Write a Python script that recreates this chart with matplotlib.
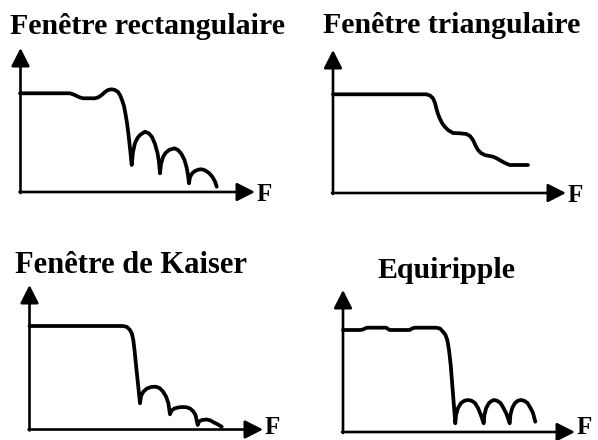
import matplotlib
matplotlib.use("Agg")
import matplotlib.pyplot as plt

# Titles and their placement (pixel units, origin top-left)
titles = ["Fenêtre rectangulaire", "Fenêtre triangulaire",
          "Fenêtre de Kaiser", "Equiripple"]
title_x = [147, 452, 131, 447]
title_y = [34, 33, 273, 278]
title_size = [21.5, 21.5, 22, 21.5]

# Axis corners, arrow tips and "F" label baselines for each panel
origin_x = [20.5, 333, 29.5, 343]
origin_y = [192, 193, 429.5, 432]
ytip = [48, 50, 285, 290]
xtip = [255, 566, 263, 575]
f_base = [201, 202, 434.5, 434.5]

# Curves (F, amplitude) in pixel units
rect_f = [20, 70, 73.5, 76.7, 80, 83.3, 95, 98.5, 101.7, 105, 108, 111.7,
          115, 118, 120, 122, 124, 125.5, 127, 128.3, 130, 131.7,
          133, 135, 137.5, 140, 145, 149, 152, 155, 157.5, 159, 160,
          161, 163, 165.5, 169, 174.3, 178, 181.5, 184.5, 186.5, 188, 189,
          190, 192, 195, 198.5, 201.7, 205, 209, 212.5, 215, 216.7]
rect_a = [93.3, 93.3, 94.5, 96, 97.5, 98.3, 98.3, 97.2, 95, 92, 90, 89.3,
          90, 92, 95, 100, 106, 114, 123, 133, 148, 165,
          152, 143, 138, 135, 131.7, 133.5, 137, 144, 153, 162, 173.3,
          164, 157, 153, 150, 148.3, 150, 154, 160, 167, 175, 183.3,
          177, 173.5, 171, 169.6, 169.3, 170.3, 173, 177, 181.5, 186.7]

tri_f = [333, 426.3, 430, 433, 435, 436.3, 438, 439.7, 442, 444.7, 448,
         453, 460, 466.3, 470, 473, 475.5, 478, 481, 484.7, 493, 497,
         501.3, 505, 509.7, 528]
tri_a = [94.3, 94.3, 95.5, 98.3, 103, 108.3, 114, 118.3, 123, 126.7, 130,
         133, 133.3, 134, 136, 140, 145.5, 150, 153, 155, 156.7, 158.5,
         161, 163, 165, 165]

kaiser_f = [29.5, 123.3, 127, 130, 132, 133.3, 134.5, 136, 138, 140,
            141, 143.5, 147, 151, 155.7, 159.5, 163, 166, 168.3, 170,
            171.5, 174.5, 178, 182, 186.7, 190, 193, 195.5, 197.7,
            199, 202, 206.7, 210.5, 214, 218, 221.7]
kaiser_a = [326, 326, 327, 330, 334, 340, 350, 365, 384, 403.3,
            396, 391.5, 388.5, 387, 386.7, 388, 391.5, 396.5, 403, 414.3,
            410.5, 408.5, 407.5, 407, 407.3, 408.5, 411, 415, 425,
            421.5, 420, 419.5, 420.5, 422.5, 424.5, 426.7]

equi_f = [343, 360, 363, 366, 368, 386.3, 388, 389.7, 409.7, 412, 414.7,
          436.3, 440, 443, 445.5, 447.3, 449, 450.7, 453, 455.3,
          456, 458, 461, 464.5, 468, 471.5, 475, 478, 480.5, 483.7,
          484.4, 486.2, 489, 492, 494, 497, 500.5, 503.5, 506.5, 509.7,
          510.4, 512.2, 515, 518, 520.7, 524, 527.5, 530.5, 533, 535.3]
equi_a = [330, 330, 329.5, 328, 327.7, 327.7, 329, 330, 330, 328.5, 327.7,
          327.7, 328.5, 331.7, 335, 340, 350, 365, 394, 423.3,
          415, 408, 403, 400.7, 400, 400.7, 403, 408, 414, 423.3,
          415, 408, 403, 400.7, 400, 400.7, 403, 408, 414, 423.3,
          415, 408, 403, 400.7, 400, 400.7, 403, 408, 413, 421.7]

curves = [(rect_f, rect_a), (tri_f, tri_a),
          (kaiser_f, kaiser_a), (equi_f, equi_a)]

fig = plt.figure(figsize=(5.98, 4.40), dpi=100)
ax = fig.add_axes([0, 0, 1, 1])
ax.set_xlim(0, 598)
ax.set_ylim(440, 0)
ax.axis("off")

arrow = dict(arrowstyle="-|>,head_length=0.55,head_width=0.28",
             color="black", lw=1.9, mutation_scale=20,
             shrinkA=0, shrinkB=0)

for i in range(4):
    ox, oy = origin_x[i], origin_y[i]
    ax.annotate("", xy=(ox, ytip[i]), xytext=(ox, oy + 1), arrowprops=arrow)
    ax.annotate("", xy=(xtip[i], oy), xytext=(ox - 1, oy), arrowprops=arrow)
    ax.text(xtip[i] + 2, f_base[i], "F", family="Liberation Serif",
            weight="bold", fontsize=18, ha="left", va="baseline")
    ax.text(title_x[i], title_y[i], titles[i], family="Liberation Serif",
            weight="bold", fontsize=title_size[i], ha="center",
            va="baseline")
    f, a = curves[i]
    ax.plot(f, a, color="black", lw=2.7, solid_joinstyle="round",
            solid_capstyle="round")

fig.savefig("out.png", dpi=100)
